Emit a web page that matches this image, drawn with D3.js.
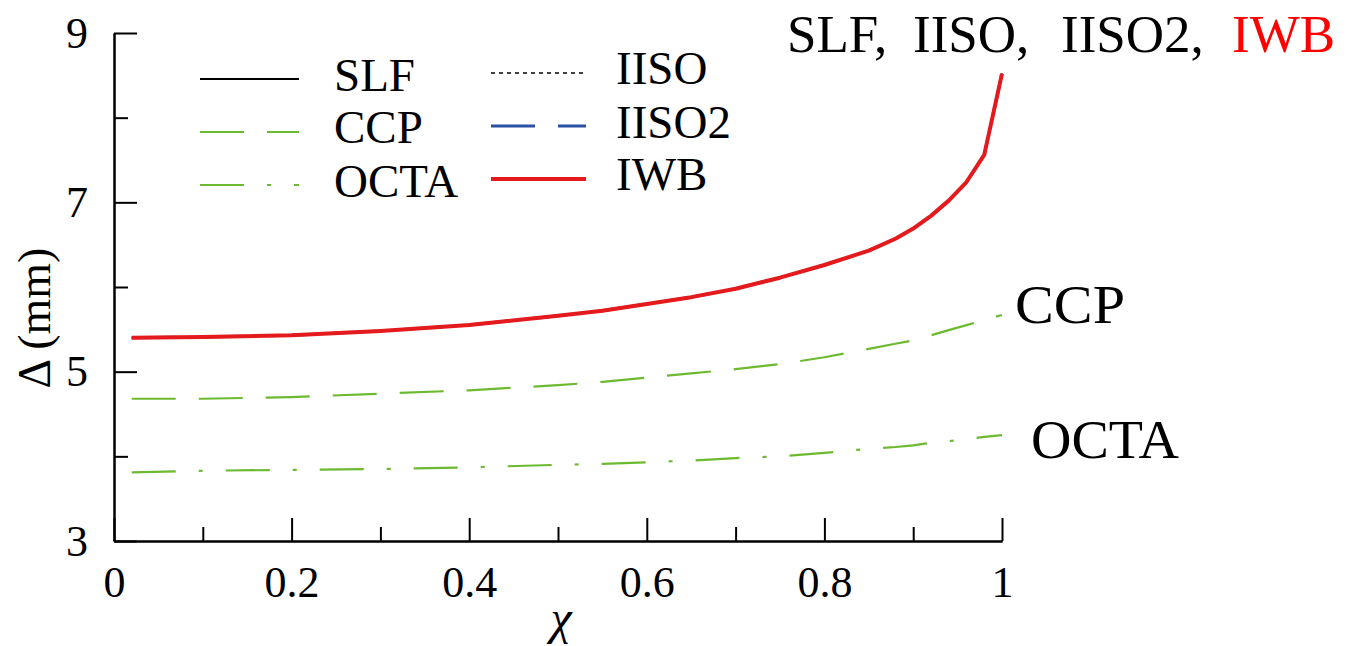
<!DOCTYPE html>
<html>
<head>
<meta charset="utf-8">
<script src="https://cdn.jsdelivr.net/npm/d3@7"></script>
<style>
  html, body { margin: 0; padding: 0; background: #fff; }
  svg { display: block; }
  text { font-family: "Liberation Serif", "Times New Roman", serif; fill: #000; }
</style>
</head>
<body>
<svg id="chart" width="1349" height="646"></svg>
<script>
// chi values at which the displacement was evaluated
const chi = [0.02, 0.1, 0.2, 0.3, 0.4, 0.5, 0.55, 0.6, 0.65, 0.7, 0.75, 0.8, 0.85, 0.88, 0.9, 0.92, 0.94, 0.96, 0.98, 1.0];

// SLF, IISO, IISO2 and IWB give the same displacement (mm)
const slf   = [5.40, 5.41, 5.43, 5.48, 5.55, 5.66, 5.72, 5.80, 5.88, 5.98, 6.11, 6.26, 6.43, 6.57, 6.69, 6.84, 7.02, 7.24, 7.56, 8.52];
const iiso  = slf;
const iiso2 = slf;
const iwb   = slf;
const ccp   = [4.68, 4.68, 4.70, 4.74, 4.78, 4.84, 4.88, 4.93, 4.98, 5.03, 5.09, 5.17, 5.27, 5.33, 5.37, 5.43, 5.49, 5.55, 5.61, 5.67];
const octa  = [3.81, 3.83, 3.84, 3.85, 3.87, 3.90, 3.91, 3.93, 3.95, 3.98, 4.00, 4.04, 4.09, 4.11, 4.13, 4.16, 4.18, 4.20, 4.23, 4.25];

// axis ticks
const xMajor = [0, 0.2, 0.4, 0.6, 0.8, 1];
const xMinor = [0.1, 0.3, 0.5, 0.7, 0.9];
const yMajor = [3, 5, 7, 9];
const yMinor = [4, 6, 8];

const svg = d3.select("#chart");
const x = d3.scaleLinear().domain([0, 1]).range([114, 1002]);
const y = d3.scaleLinear().domain([3, 9]).range([541, 33]);

const GREEN = "#6cba30", RED = "#e41a1c", BLUE = "#2a4fa3";

const series = [
  { name: "SLF",   values: slf,   color: "#000", width: 2,   dash: null },
  { name: "CCP",   values: ccp,   color: GREEN,  width: 2.2, dash: "44 23" },
  { name: "OCTA",  values: octa,  color: GREEN,  width: 2.2, dash: "44 23 4 23" },
  { name: "IISO",  values: iiso,  color: "#000", width: 1.5, dash: "4 4" },
  { name: "IISO2", values: iiso2, color: BLUE,   width: 3,   dash: "44 23" },
  { name: "IWB",   values: iwb,   color: RED,    width: 4,   dash: null }
];

const line = d3.line()
  .x(d => x(d[0]))
  .y(d => y(d[1]))
  .curve(d3.curveLinear);

// axes
function styleAxis(g) {
  g.selectAll("path, line").attr("stroke", "#000").attr("stroke-width", 2);
  g.selectAll("text").style("font-size", "44px").attr("fill", "#000");
}
const fmt = d => (d === 0 || d === 1) ? String(d) : d3.format(".1f")(d);
svg.append("g").attr("transform", "translate(0,541)")
  .call(d3.axisBottom(x).tickValues(xMajor).tickSize(-23).tickSizeOuter(0).tickPadding(25).tickFormat(fmt))
  .call(styleAxis);
svg.append("g").attr("transform", "translate(0,541)")
  .call(d3.axisBottom(x).tickValues(xMinor).tickSize(-14).tickSizeOuter(0).tickFormat(""))
  .call(styleAxis);
svg.append("g").attr("transform", "translate(114,0)")
  .call(d3.axisLeft(y).tickValues(yMajor).tickSize(-23).tickSizeOuter(0).tickPadding(26).tickFormat(d3.format("d")))
  .call(styleAxis);
svg.append("g").attr("transform", "translate(114,0)")
  .call(d3.axisLeft(y).tickValues(yMinor).tickSize(-14).tickSizeOuter(0).tickFormat(""))
  .call(styleAxis);

// curves
svg.append("g").selectAll("path")
  .data(series)
  .join("path")
  .attr("d", s => line(chi.map((c, i) => [c, s.values[i]])))
  .attr("fill", "none")
  .attr("stroke", s => s.color)
  .attr("stroke-width", s => s.width)
  .attr("stroke-dasharray", s => s.dash)
  .attr("stroke-linejoin", "round");

// axis titles
svg.append("text")
  .attr("x", 561).attr("y", 634)
  .attr("text-anchor", "middle")
  .style("font-size", "48px").style("font-style", "italic")
  .text("χ");
svg.append("text")
  .attr("transform", "translate(50,318) rotate(-90)")
  .attr("text-anchor", "middle")
  .style("font-size", "46px")
  .text("Δ (mm)");

// legend
const legendPos = [
  { x0: 200, x1: 299, ly: 79,  tx: 334, ty: 91 },
  { x0: 200, x1: 299, ly: 132, tx: 334, ty: 143 },
  { x0: 200, x1: 299, ly: 185, tx: 334, ty: 197 },
  { x0: 491, x1: 586, ly: 73,  tx: 616, ty: 84 },
  { x0: 491, x1: 586, ly: 126, tx: 616, ty: 138 },
  { x0: 491, x1: 586, ly: 179, tx: 616, ty: 190 }
];
const legend = svg.append("g").selectAll("g")
  .data(series)
  .join("g");
legend.append("line")
  .attr("x1", (s, i) => legendPos[i].x0).attr("x2", (s, i) => legendPos[i].x1)
  .attr("y1", (s, i) => legendPos[i].ly).attr("y2", (s, i) => legendPos[i].ly)
  .attr("stroke", s => s.color)
  .attr("stroke-width", s => s.width)
  .attr("stroke-dasharray", s => s.dash);
legend.append("text")
  .attr("x", (s, i) => legendPos[i].tx).attr("y", (s, i) => legendPos[i].ty)
  .style("font-size", "47px")
  .text(s => s.name);

// curve annotations
const note = svg.append("text").attr("y", 52).style("font-size", "53px");
note.append("tspan").attr("x", 787).text("SLF,");
note.append("tspan").attr("x", 913).text("IISO,");
note.append("tspan").attr("x", 1061).text("IISO2,");
note.append("tspan").attr("x", 1232).style("fill", "#ff0000").text("IWB");

svg.append("text").attr("x", 1015).attr("y", 323).style("font-size", "54px")
  .attr("textLength", 110).attr("lengthAdjust", "spacingAndGlyphs").text("CCP");
svg.append("text").attr("x", 1031).attr("y", 458).style("font-size", "54px")
  .attr("textLength", 148).attr("lengthAdjust", "spacingAndGlyphs").text("OCTA");
</script>
</body>
</html>
